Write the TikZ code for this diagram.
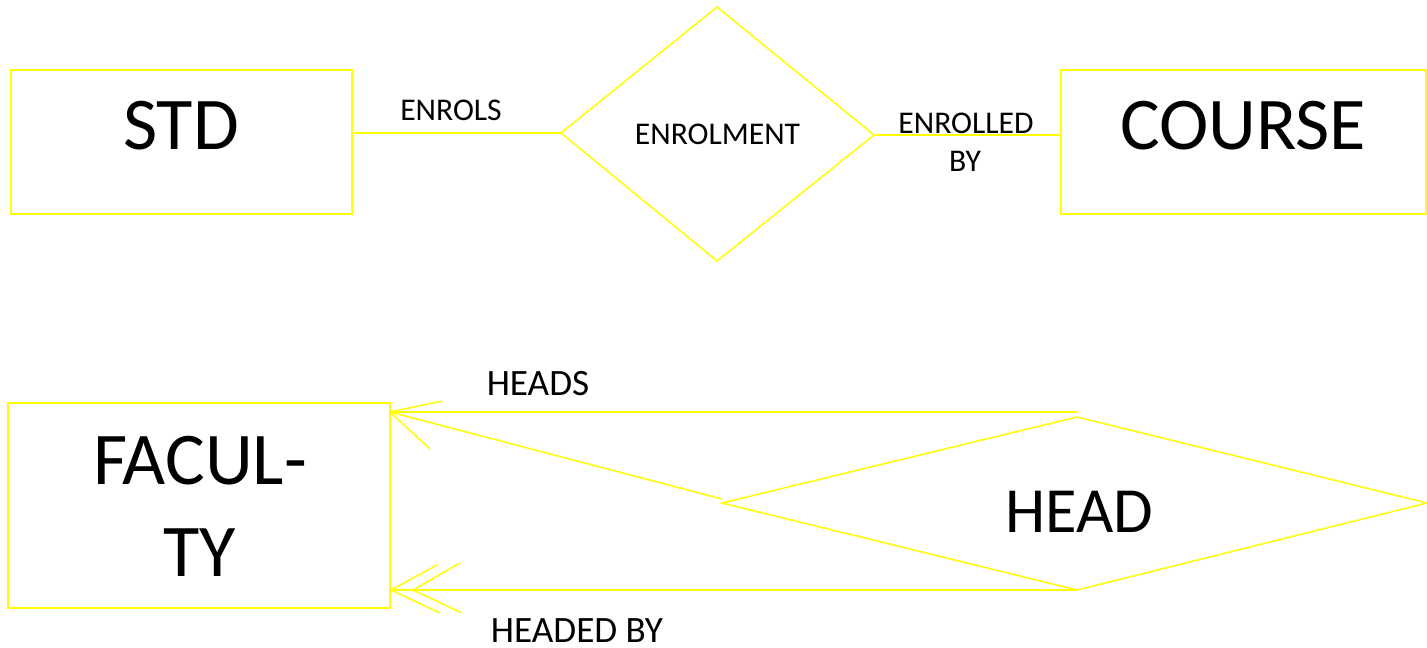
\documentclass[tikz,border=0pt]{standalone}
\usepackage{fontspec}
\setmainfont{Carlito}
\definecolor{erYellow}{RGB}{255,255,0}
\tikzset{
  entity/.style={draw=erYellow, line width=0.75pt, rectangle, inner sep=0pt},
  relshape/.style={draw=erYellow, line width=0.75pt, line join=miter},
  conn/.style={draw=erYellow, line width=0.75pt},
  bigtext/.style={font=\fontsize{37.2}{44}\selectfont, inner sep=0pt, text=black},
  headtext/.style={font=\fontsize{32.2}{38}\selectfont, inner sep=0pt, text=black},
  smalltext/.style={font=\fontsize{15.8}{19}\selectfont, inner sep=0pt, text=black},
  midtext/.style={font=\fontsize{18.6}{22}\selectfont, inner sep=0pt, text=black},
}
\begin{document}
\begin{tikzpicture}[x=0.5pt,y=-0.5pt]
\useasboundingbox (0,0) rectangle (1427,647);

% ---------- entities ----------
\node[entity, minimum width=170.5pt, minimum height=72pt] (std) at (181.5,142) {};
\node[entity, minimum width=182.5pt, minimum height=72pt] (course) at (1243.5,142) {};
\node[entity, minimum width=191pt, minimum height=102.5pt] (faculty) at (199,505.5) {};

\node[bigtext] (stdtxt) at (181,126) {STD};
\node[bigtext] (coursetxt) at (1243,126) {COURSE};
\node[bigtext] (factxtA) at (200,461) {FACUL-};
\node[bigtext] (factxtB) at (200,553) {TY};

% ---------- ENROLMENT relationship ----------
\coordinate (el) at (561,133);
\coordinate (et) at (717,7);
\coordinate (er) at (874,135);
\coordinate (eb) at (717,261);
\draw[relshape] (el) -- (et) -- (er) -- (eb) -- cycle;
\node[smalltext] (enrolment) at (717.5,134) {ENROLMENT};

\draw[conn] (el) -- (el -| std.east);
\draw[conn] (er) -- (er -| course.west);
\node[smalltext] (enrols) at (451,110) {ENROLS};
\node[smalltext] (enrolledA) at (966,123) {ENROLLED};
\node[smalltext] (enrolledB) at (965,161) {BY};

% ---------- HEAD relationship ----------
\coordinate (hl) at (722,503);
\coordinate (ht) at (1077,417);
\coordinate (hr) at (1427,503);
\coordinate (hb) at (1077,590);
\draw[relshape] (hl) -- (ht) -- (hr) -- (hb) -- cycle;
\node[headtext] (headtxt) at (1079.5,512) {HEAD};

% HEADS connector (top)
\coordinate (htop) at (1077,412);
\coordinate (tipA) at (390,412);
\coordinate (hlend) at (722,499);
\coordinate (barbA1) at (442,401);
\coordinate (barbA2) at (430,449);
\draw[conn] (htop) -- (tipA);
\draw[conn] (hlend) -- (tipA);
\draw[conn] (barbA1) -- (tipA) -- (barbA2);
\node[midtext] (heads) at (538,384) {HEADS};

% HEADED BY connector (bottom)
\coordinate (tipB1) at (391,590);
\coordinate (tipB2) at (413,590);
\draw[conn] (hb) -- (tipB1);
\draw[conn] (437,565) coordinate (b1a) -- (tipB1) -- (440,613) coordinate (b1b);
\draw[conn] (460,563) coordinate (b2a) -- (tipB2) -- (462,613) coordinate (b2b);
\node[midtext] (headedby) at (577,631) {HEADED BY};
\end{tikzpicture}
\end{document}
